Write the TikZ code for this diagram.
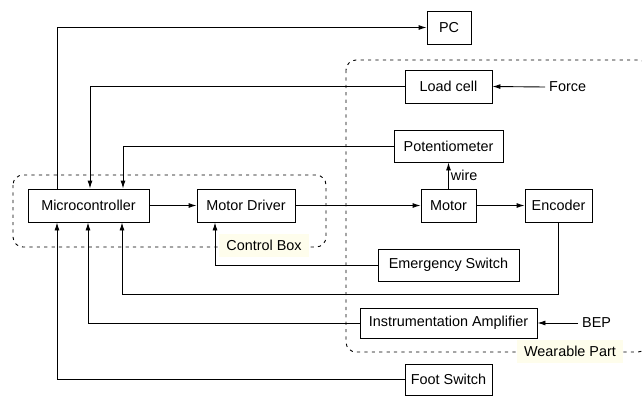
\documentclass[tikz,border=0pt]{standalone}
\usepackage{fontspec}
\setmainfont{Liberation Sans}
\usetikzlibrary{arrows.meta}
\definecolor{labelbg}{RGB}{254,253,236}
\begin{document}
\begin{tikzpicture}[x=1pt,y=-1pt,
  font=\fontsize{14.4}{16}\selectfont,
  block/.style={draw, line width=0.9pt, inner sep=0pt, minimum height=33},
  conn/.style={line width=0.9pt},
  arr/.style={conn, -{Latex[length=8,width=5]}},
  group/.style={draw, line width=0.9pt, dash pattern=on 3.2pt off 4.2pt, rounded corners=10},
  grouplabel/.style={fill=labelbg, inner xsep=7, inner ysep=0pt, minimum height=23},
  plain/.style={inner sep=4pt}]
\clip (0,0) rectangle (642,397);
\useasboundingbox (0,0) rectangle (642,397);

% dashed enclosures
\draw[group] (13,175) rectangle (326,247);
\draw[group] (346,60) rectangle (648,352);
\node[grouplabel] (cboxlabel) at (264,245) {Control Box};
\node[grouplabel] (wearlabel) at (570,351) {Wearable Part};

% blocks
\node[block, minimum width=44]  (pc)  at (449,27.5)   {PC};
\node[block, minimum width=87]  (lc)  at (448.5,86.5) {Load cell};
\node[block, minimum width=109, minimum height=32] (pot) at (448.5,146) {Potentiometer};
\node[block, minimum width=121] (mc)  at (88.5,205.5) {Microcontroller};
\node[block, minimum width=98]  (md)  at (246,205.5)  {Motor Driver};
\node[block, minimum width=55]  (mot) at (448.5,205.5) {Motor};
\node[block, minimum width=67]  (enc) at (558.5,205.5) {Encoder};
\node[block, minimum width=141, minimum height=32] (es) at (448.5,265) {Emergency Switch};
\node[block, minimum width=177, minimum height=30] (ia) at (448.5,323) {Instrumentation Amplifier};
\node[block, minimum width=87, minimum height=31]  (fs) at (448.5,379.5) {Foot Switch};

% external signals
\node[plain, anchor=west] (force) at (545,87) {Force};
\node[plain, anchor=west] (bep)   at (578,323) {BEP};

% turning point of the encoder feedback line
\coordinate (encturn) at (122,294);

% connectors
\draw[arr] ([xshift=-31.5]mc.north) |- (pc.west);
\draw[arr] (lc.west) -| ([xshift=1.5]mc.north);
\draw[arr] (pot.west) -| ([xshift=34.5]mc.north);
\draw[arr] (mc.east) -- (md.west);
\draw[arr] (md.east) -- (mot.west);
\draw[arr] (mot.east) -- (enc.west);
\draw[arr] (mot.north) -- node[right, inner sep=2pt] {wire} (pot.south);
\draw[arr] (es.west) -| ([xshift=-31]md.south);
\draw[arr] (enc.south) |- (encturn) -- (encturn |- mc.south);
\draw[arr] (ia.west) -| ([xshift=-0.5]mc.south);
\draw[arr] (fs.west) -| ([xshift=-31.5]mc.south);
\draw[arr] (force.west) -- (lc.east);
\draw[arr] (bep.west) -- (ia.east);
\end{tikzpicture}
\end{document}
